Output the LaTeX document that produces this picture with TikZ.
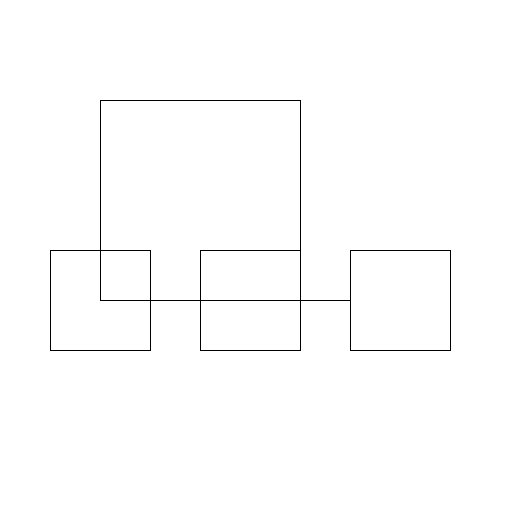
\documentclass[tikz,border=0pt]{standalone}
\begin{document}
\begin{tikzpicture}[x=1pt,y=-1pt,
  box/.style={draw=black,line width=0.8pt,minimum size=100pt,inner sep=0pt,anchor=center},
  bigbox/.style={draw=black,line width=0.8pt,minimum size=200pt,inner sep=0pt,anchor=center},
  conn/.style={draw=black,line width=0.8pt}]
\useasboundingbox (0,0) rectangle (512,512);
\node[bigbox] (big) at (200,200) {};
\node[box] (a) at (100,300) {};
\node[box] (b) at (250,300) {};
\node[box] (c) at (400,300) {};
\draw[conn] (a.east) -- (c.west);
\end{tikzpicture}
\end{document}
